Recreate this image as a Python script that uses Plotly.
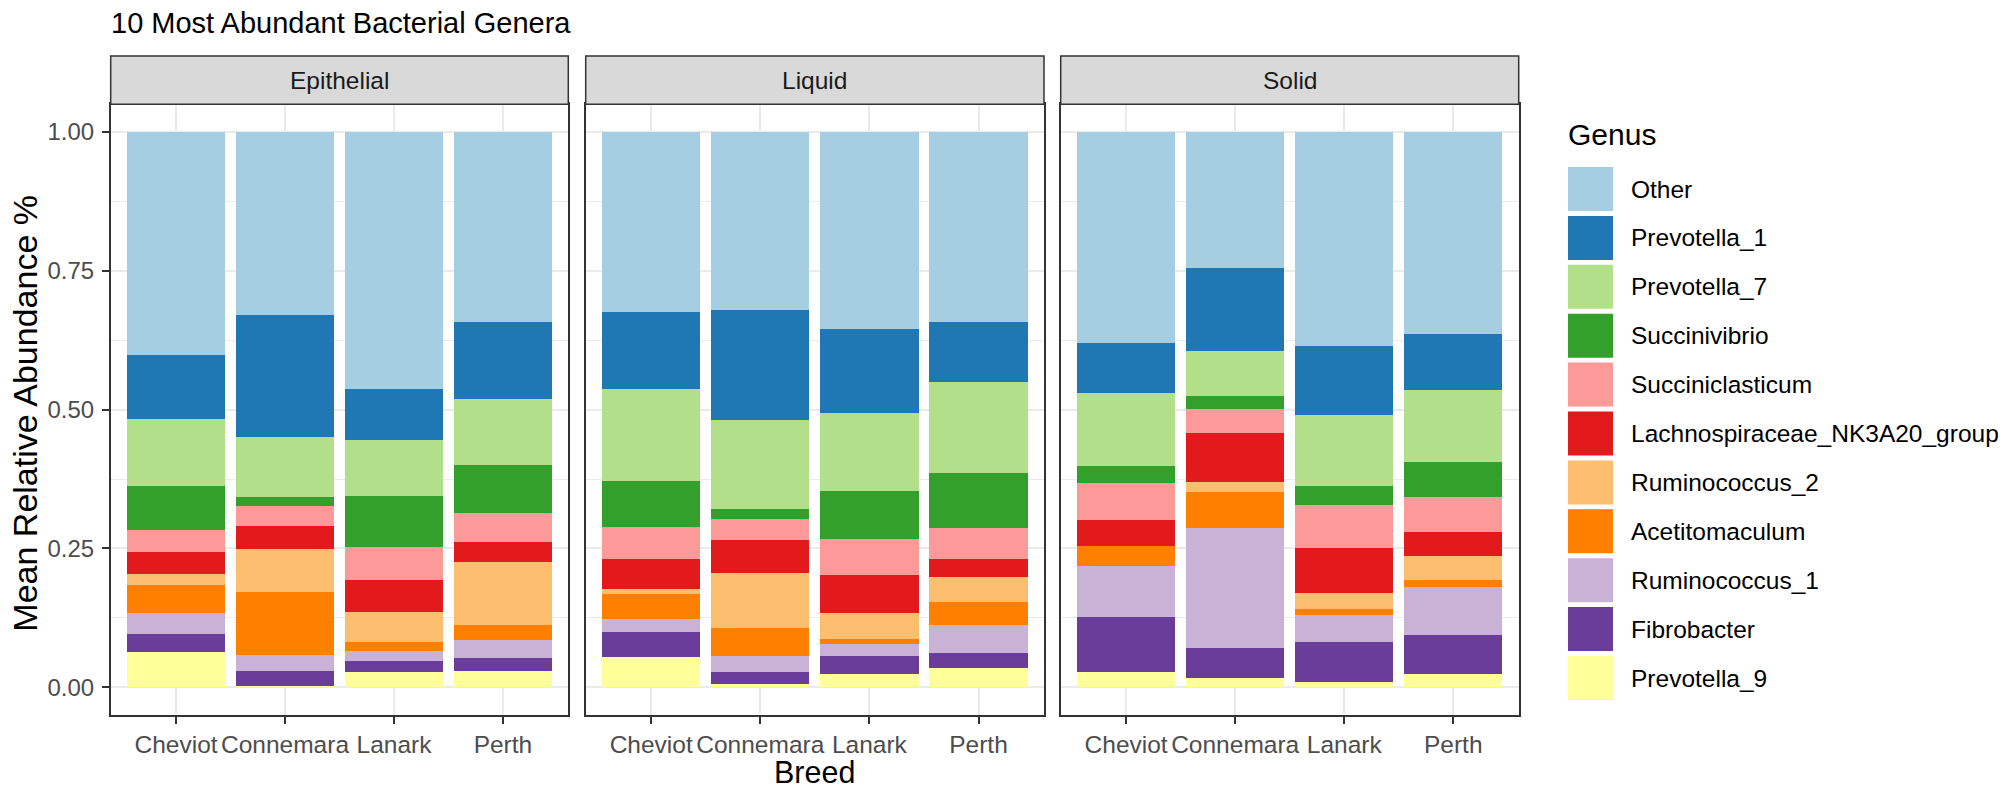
import plotly.graph_objects as go

# ---------------- data ----------------
panels = ["Epithelial", "Liquid", "Solid"]
breeds = ["Cheviot", "Connemara", "Lanark", "Perth"]
genera = ["Other", "Prevotella_1", "Prevotella_7", "Succinivibrio", "Succiniclasticum",
          "Lachnospiraceae_NK3A20_group", "Ruminococcus_2", "Acetitomaculum",
          "Ruminococcus_1", "Fibrobacter", "Prevotella_9"]
colors = ["#A6CEE3", "#1F78B4", "#B2DF8A", "#33A02C", "#FB9A99", "#E31A1C",
          "#FDBF6F", "#FF7F00", "#CAB2D6", "#6A3D9A", "#FFFF99"]

# values ordered: Epithelial(Chev, Conn, Lan, Perth), Liquid(...), Solid(...)
other            = [0.402, 0.329, 0.463, 0.343,  0.325, 0.321, 0.355, 0.342,  0.380, 0.244, 0.385, 0.364]
prevotella_1     = [0.115, 0.221, 0.092, 0.138,  0.138, 0.197, 0.151, 0.108,  0.090, 0.151, 0.125, 0.101]
prevotella_7     = [0.121, 0.107, 0.101, 0.118,  0.165, 0.161, 0.140, 0.164,  0.132, 0.080, 0.127, 0.130]
succinivibrio    = [0.079, 0.016, 0.091, 0.087,  0.084, 0.018, 0.087, 0.099,  0.030, 0.023, 0.034, 0.062]
succiniclasticum = [0.040, 0.037, 0.059, 0.053,  0.057, 0.038, 0.064, 0.056,  0.066, 0.044, 0.078, 0.064]
lachnospiraceae  = [0.039, 0.041, 0.059, 0.036,  0.054, 0.059, 0.070, 0.032,  0.047, 0.088, 0.082, 0.042]
ruminococcus_2   = [0.020, 0.077, 0.054, 0.112,  0.009, 0.099, 0.046, 0.046,  0.000, 0.019, 0.028, 0.044]
acetitomaculum   = [0.050, 0.114, 0.015, 0.027,  0.045, 0.050, 0.010, 0.040,  0.036, 0.064, 0.011, 0.013]
ruminococcus_1   = [0.038, 0.028, 0.019, 0.033,  0.024, 0.029, 0.021, 0.051,  0.092, 0.217, 0.049, 0.085]
fibrobacter      = [0.033, 0.027, 0.020, 0.023,  0.045, 0.023, 0.032, 0.028,  0.100, 0.054, 0.071, 0.071]
prevotella_9     = [0.063, 0.003, 0.027, 0.030,  0.054, 0.005, 0.024, 0.034,  0.027, 0.016, 0.010, 0.024]

series = [other, prevotella_1, prevotella_7, succinivibrio, succiniclasticum,
          lachnospiraceae, ruminococcus_2, acetitomaculum, ruminococcus_1,
          fibrobacter, prevotella_9]

y_ticks = [0, 0.25, 0.5, 0.75, 1.0]
y_ticktext = ["0.00", "0.25", "0.50", "0.75", "1.00"]

# ---------------- layout geometry (window pixels) ----------------
W, H = 2006, 792
FONT = "Liberation Sans, Arial, Helvetica, sans-serif"
panel_x = [(110.7, 568.3), (585.7, 1044.0), (1060.7, 1518.7)]
panel_top, panel_bottom = 104.3, 715.0
strip_top = 56.0

def px(x):
    return x / W

def py(y):
    return 1 - y / H

fig = go.Figure()

# stack bottom -> top (ggplot puts first level on top)
for p_i, panel in enumerate(panels):
    xa = "x" if p_i == 0 else f"x{p_i + 1}"
    ya = "y" if p_i == 0 else f"y{p_i + 1}"
    for g_i in reversed(range(len(genera))):
        vals = series[g_i][p_i * 4:(p_i + 1) * 4]
        fig.add_trace(go.Bar(
            x=breeds, y=vals, name=genera[g_i], xaxis=xa, yaxis=ya,
            marker=dict(color=colors[g_i], line=dict(width=0)),
            width=0.9, showlegend=False,
            hovertemplate=genera[g_i] + "<br>%{x}: %{y:.3f}<extra></extra>",
        ))

axis_common = dict(showline=True, mirror=True, linecolor="#333333", linewidth=1.5,
                   zeroline=False)
layout = dict(
    width=W, height=H, margin=dict(l=0, r=0, t=0, b=0),
    paper_bgcolor="white", plot_bgcolor="white", barmode="stack",
    showlegend=False, font=dict(family=FONT, color="#000000"),
)
for p_i in range(3):
    xk = "xaxis" if p_i == 0 else f"xaxis{p_i + 1}"
    yk = "yaxis" if p_i == 0 else f"yaxis{p_i + 1}"
    ya = "y" if p_i == 0 else f"y{p_i + 1}"
    xa = "x" if p_i == 0 else f"x{p_i + 1}"
    layout[xk] = dict(
        domain=[px(panel_x[p_i][0]), px(panel_x[p_i][1])], anchor=ya,
        type="category", categoryorder="array", categoryarray=breeds,
        range=[-0.6, 3.6], showgrid=True, gridcolor="#EBEBEB", gridwidth=2,
        ticks="outside", ticklen=7, tickwidth=1.5, tickcolor="#333333",
        tickfont=dict(size=24.5, color="#4D4D4D", family=FONT),
        ticklabelstandoff=0, **axis_common)
    layout[yk] = dict(
        domain=[py(panel_bottom), py(panel_top)], anchor=xa,
        range=[-0.05, 1.05], tickvals=y_ticks, ticktext=y_ticktext,
        showgrid=True, gridcolor="#EBEBEB", gridwidth=2,
        minor=dict(tickvals=[0.125, 0.375, 0.625, 0.875], showgrid=True,
                   gridcolor="#EBEBEB", gridwidth=1, ticks=""),
        ticks="outside" if p_i == 0 else "", ticklen=7, tickwidth=1.5,
        tickcolor="#333333", showticklabels=(p_i == 0),
        tickfont=dict(size=24, color="#4D4D4D", family=FONT),
        ticklabelstandoff=3, **axis_common)
fig.update_layout(**layout)

shapes = []
annotations = []
# strips
for p_i, panel in enumerate(panels):
    x0, x1 = panel_x[p_i]
    shapes.append(dict(type="rect", xref="paper", yref="paper",
                       x0=px(x0), x1=px(x1), y0=py(panel_top), y1=py(strip_top),
                       fillcolor="#D9D9D9", line=dict(color="#333333", width=1.5)))
    annotations.append(dict(text=panel, xref="paper", yref="paper",
                            x=px((x0 + x1) / 2), y=py((strip_top + panel_top) / 2),
                            xanchor="center", yanchor="middle", showarrow=False,
                            font=dict(size=24.5, color="#1A1A1A", family=FONT)))

# title
annotations.append(dict(text="10 Most Abundant Bacterial Genera", xref="paper", yref="paper",
                        x=px(109), y=py(22.5), xanchor="left", yanchor="middle",
                        showarrow=False, font=dict(size=29, color="#000000", family=FONT)))
# axis titles
annotations.append(dict(text="Breed", xref="paper", yref="paper",
                        x=px((panel_x[0][0] + panel_x[2][1]) / 2), y=py(772),
                        xanchor="center", yanchor="middle", showarrow=False,
                        font=dict(size=30.5, color="#000000", family=FONT)))
annotations.append(dict(text="Mean Relative Abundance %", xref="paper", yref="paper",
                        x=px(25), y=py((panel_top + panel_bottom) / 2 + 4), textangle=-90,
                        xanchor="center", yanchor="middle", showarrow=False,
                        font=dict(size=34, color="#000000", family=FONT)))

# legend (drawn manually so key sizes match)
annotations.append(dict(text="Genus", xref="paper", yref="paper",
                        x=px(1566), y=py(135), xanchor="left", yanchor="middle",
                        showarrow=False, font=dict(size=30, color="#000000", family=FONT)))
key_top0, key_pitch, key_h = 167.0, 48.9, 44.0
for g_i, g in enumerate(genera):
    t = key_top0 + key_pitch * g_i
    shapes.append(dict(type="rect", xref="paper", yref="paper",
                       x0=px(1568), x1=px(1613), y0=py(t + key_h), y1=py(t),
                       fillcolor=colors[g_i], line=dict(width=0)))
    annotations.append(dict(text=g, xref="paper", yref="paper",
                            x=px(1629), y=py(t + key_h / 2), xanchor="left",
                            yanchor="middle", showarrow=False,
                            font=dict(size=24.5, color="#000000", family=FONT)))

fig.update_layout(shapes=shapes, annotations=annotations)
fig.write_html(
    "out.html",
    config={"displayModeBar": False},
    post_script=("document.documentElement.style.margin='0';"
                 "document.body.style.margin='0';"
                 "document.documentElement.style.overflow='hidden';"
                 "document.body.style.overflow='hidden';"),
)
